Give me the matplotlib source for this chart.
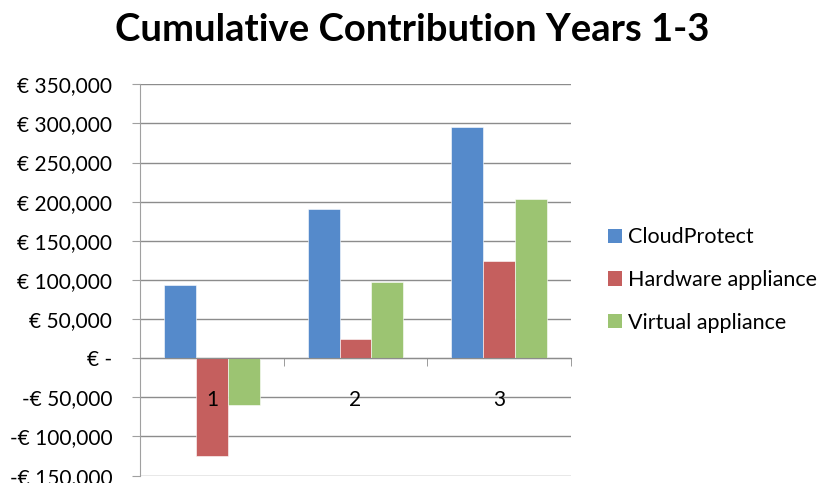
import numpy as np
import matplotlib
matplotlib.use('Agg')
import matplotlib.pyplot as plt
from matplotlib.patches import Patch
from matplotlib.ticker import FuncFormatter, FixedLocator

# data
years = ['1', '2', '3']
cloud_protect = [93000, 191000, 296000]
hardware = [-125000, 25000, 124000]
virtual = [-60000, 97000, 204000]
series_names = ['CloudProtect', 'Hardware appliance', 'Virtual appliance']
y_ticks = list(range(-150000, 350001, 50000))

colors = ['#558ACB', '#C55F5E', '#9CC472']
grid_color = '#8c8c8c'
spine_color = '#a0a0a0'

plt.rcParams['font.family'] = ['Lato', 'DejaVu Sans']


def euro(v, pos=None):
    #excel style accounting format
    if v == 0:
        return '€ -'
    s = '€ {:,.0f}'.format(abs(v))
    return '-' + s if v < 0 else s


fig = plt.figure(figsize=(8.24, 4.83), dpi=100)
ax = fig.add_axes([140 / 824, 1 - 475.6 / 483, (571 - 140) / 824, (475.6 - 84.3) / 483])

x = np.arange(len(years))
width = 1 / 4.5
for i, (vals, name) in enumerate(zip([cloud_protect, hardware, virtual], series_names)):
    ax.bar(x + (i - 1) * width, vals, width, color=colors[i], edgecolor='white',
           linewidth=0.4, label=name, zorder=3)

ax.set_xlim(-0.5, 2.5)
ax.set_ylim(-150000, 350000)
ax.set_yticks(y_ticks)
ax.yaxis.set_major_formatter(FuncFormatter(euro))
ax.yaxis.grid(True, color=grid_color, linewidth=1.0, zorder=0)
ax.set_axisbelow(True)
# category labels are drawn over the bars, as in the reference
ax.xaxis.set_zorder(5)

# category axis sits on the zero line
ax.spines['bottom'].set_position(('data', 0))
ax.spines['bottom'].set_color(grid_color)
ax.spines['bottom'].set_zorder(4)
ax.spines['left'].set_color(spine_color)
ax.spines['top'].set_visible(False)
ax.spines['right'].set_visible(False)

ax.set_xticks(x)
ax.set_xticklabels(years)
ax.xaxis.set_minor_locator(FixedLocator([0.5, 1.5, 2.5]))
ax.tick_params(axis='x', which='major', length=0, pad=23, labelsize=15)
ax.tick_params(axis='x', which='minor', length=6, color=grid_color, direction='out')
ax.tick_params(axis='y', length=6, color=spine_color, pad=14, labelsize=15)

fig.text(0.5, 1 - 30 / 483, 'Cumulative Contribution Years 1-3', ha='center', va='center',
         fontsize=27.5, fontweight='bold')

handles = [Patch(facecolor=c) for c in colors]
fig.legend(handles, series_names, loc='center left', bbox_to_anchor=(608 / 824, 1 - 280 / 483),
           frameon=False, fontsize=15.5, handlelength=0.65, handleheight=0.65,
           handletextpad=0.3, labelspacing=1.05, borderpad=0, borderaxespad=0)

fig.savefig('out.png', dpi=100)
